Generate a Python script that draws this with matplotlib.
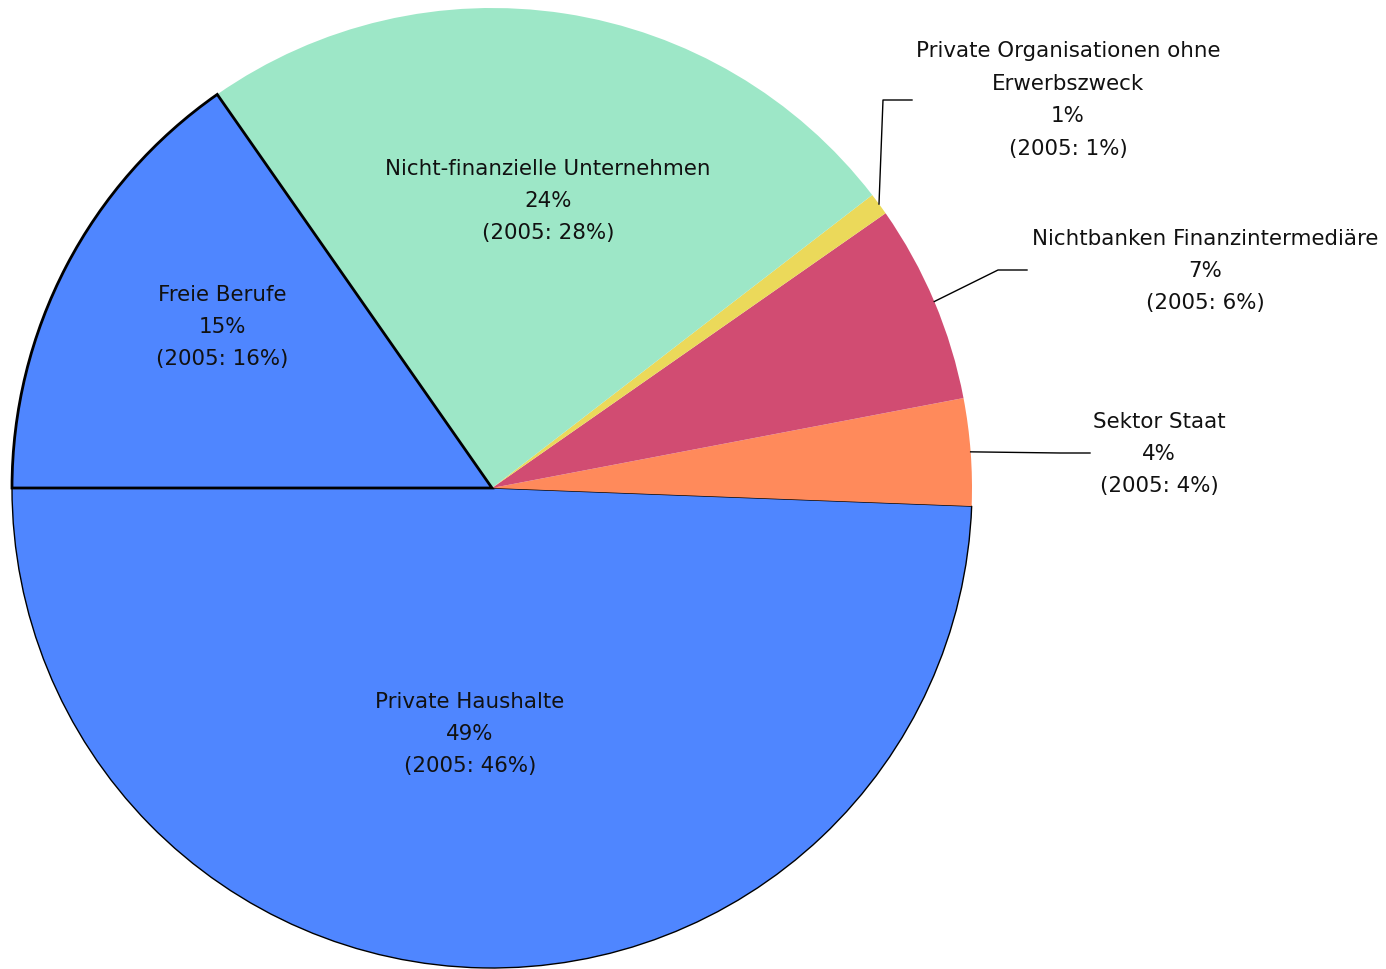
import numpy as np
import matplotlib
matplotlib.use("Agg")
import matplotlib.pyplot as plt

# Anteile (Reihenfolge ab 180 Grad gegen den Uhrzeigersinn)
sektoren = ["Private Haushalte", "Sektor Staat", "Nichtbanken Finanzintermediäre",
            "Private Organisationen ohne\nErwerbszweck", "Nicht-finanzielle Unternehmen",
            "Freie Berufe"]
anteile = [49.4, 3.6, 6.7, 0.75, 24.25, 15.3]
prozent = ["49%", "4%", "7%", "1%", "24%", "15%"]
prozent_2005 = ["46%", "4%", "6%", "1%", "28%", "16%"]
farben = ["#4F86FF", "#FF8A5B", "#D14C72", "#EBD95A", "#9DE7C7", "#4F86FF"]

W, H = 1386, 970
cx, cy, r = 492, H - 489, 480

fig = plt.figure(figsize=(W / 100, H / 100), dpi=100)
ax = fig.add_axes([0, 0, 1, 1])

wedges, _ = ax.pie(anteile, colors=farben, startangle=180, counterclock=True,
                   center=(cx, cy), radius=r, wedgeprops=dict(linewidth=0))
wedges[0].set_edgecolor("black")
wedges[0].set_linewidth(1.0)
wedges[5].set_edgecolor("black")
wedges[5].set_linewidth(2.0)
wedges[5].set_zorder(3)

ax.set_xlim(0, W)
ax.set_ylim(0, H)
ax.set_aspect("equal")
ax.axis("off")

# Beschriftungspositionen (Mitte des Textblocks), Bildkoordinaten
label_pos = {0: (470, 734), 1: (1159, 454), 2: (1205, 271),
             3: (1068, 100), 4: (548, 201), 5: (222, 327)}
# Knickpunkte der Führungslinien
knick = {1: [(1060, 454), (1090, 454)],
         2: [(998, 271), (1027, 271)],
         3: [(883, 101), (912, 101)]}

for i, w in enumerate(wedges):
    txt = f"{sektoren[i]}\n{prozent[i]}\n(2005: {prozent_2005[i]})"
    x, y = label_pos[i]
    ax.text(x, H - y, txt, ha="center", va="center", fontsize=15.4,
            family="DejaVu Sans", linespacing=1.78, color="#111111", zorder=5)
    if i in knick:
        mid = np.deg2rad((w.theta1 + w.theta2) / 2)
        xs = [cx + r * np.cos(mid)] + [p[0] for p in knick[i]]
        ys = [cy + r * np.sin(mid)] + [H - p[1] for p in knick[i]]
        ax.plot(xs, ys, color="black", lw=1.0, zorder=4)

fig.savefig("out.png", dpi=100)
